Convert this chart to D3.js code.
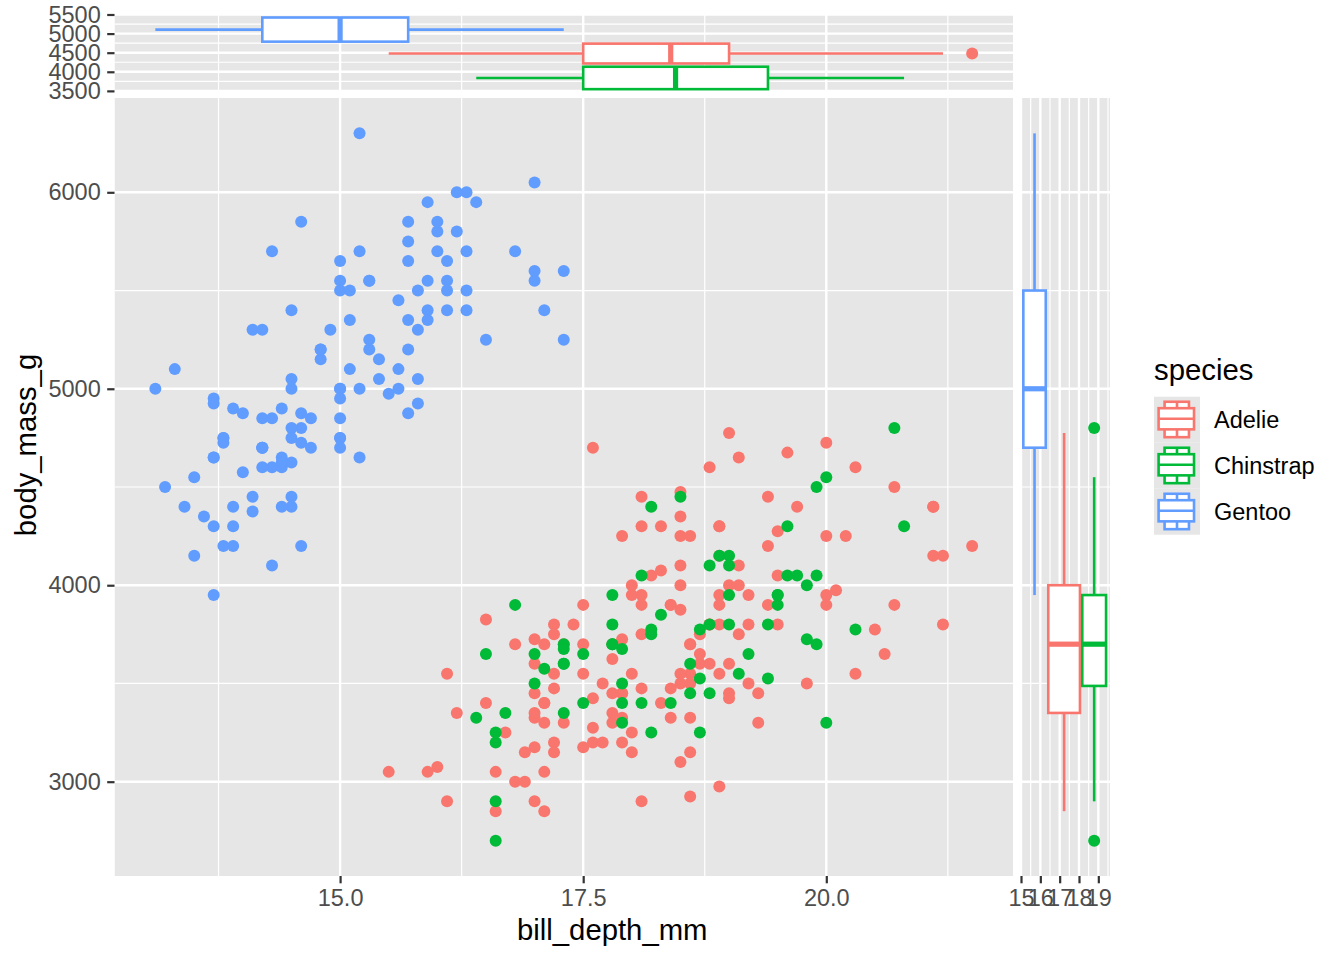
<!DOCTYPE html>
<html>
<head>
<meta charset="utf-8">
<script src="https://cdn.jsdelivr.net/npm/d3@7"></script>
<style>
  body { margin: 0; background: #fff; }
  svg { display: block; }
  text { font-family: "Liberation Sans", Arial, Helvetica, sans-serif; }
</style>
</head>
<body>
<div id="chart"></div>
<script>
// penguins: bill depth (mm) and body mass (g), per species, in data row order
const species = ["Adelie", "Chinstrap", "Gentoo"];

const adelieDepth = [18.7,17.4,18.0,19.3,20.6,17.8,19.6,18.1,20.2,17.1,17.3,17.6,21.2,21.1,17.8,19.0,20.7,18.4,21.5,
  18.3,18.7,19.2,18.1,17.2,18.9,18.6,17.9,18.6,18.9,
  16.7,18.1,17.8,18.9,17.0,21.1,20.0,18.5,19.3,19.1,18.0,18.4,18.5,19.7,16.9,18.8,19.0,18.9,17.9,21.2,
  17.7,18.9,17.9,19.5,18.1,18.6,17.5,18.8,16.6,19.1,16.9,21.1,17.0,18.2,17.1,18.0,16.2,19.1,
  16.6,19.4,19.0,18.4,17.2,18.9,17.5,18.5,16.8,19.4,16.1,19.1,17.2,17.6,18.8,19.4,
  17.8,20.3,19.5,18.6,19.2,18.8,18.0,18.1,17.1,18.1,17.3,18.9,18.6,18.5,16.1,18.5,
  17.9,20.0,16.0,20.0,18.6,18.9,17.2,20.0,17.0,19.0,16.5,20.3,17.7,19.5,20.7,18.3,
  17.0,20.5,17.0,18.6,17.2,19.8,17.0,18.5,15.9,19.0,17.6,18.3,17.1,18.0,17.9,19.2,
  18.5,18.5,17.6,17.5,17.5,20.1,16.5,17.9,17.1,17.2,15.5,17.0,16.8,18.7,18.6,18.4,17.8,18.1,17.1,18.5];
const adelieMass = [3750,3800,3250,3450,3650,3625,4675,3475,4250,3300,3700,3200,3800,4400,3700,3450,4500,3325,4200,
  3400,3600,3800,3950,3800,3800,3550,3200,3150,3950,
  3250,3900,3300,3900,3325,4150,3950,3550,3300,4650,3150,3900,3100,4400,3000,4600,3425,2975,3450,4150,
  3500,4300,3450,4050,2900,3700,3550,3800,2850,3750,3150,4400,3600,4050,2850,3950,3350,4100,
  3050,4450,3600,3900,3550,4150,3700,4250,3700,3900,3550,4000,3200,4700,3800,4200,
  3350,3550,3800,3500,3950,3600,3550,4300,3400,4450,3300,4300,3700,4350,2900,4100,
  3725,4725,3075,4250,2925,3550,3750,3900,3175,4775,3825,4600,3200,4275,3900,4075,
  2900,3775,3350,3325,3150,3500,3450,3875,3050,4000,3275,4300,3050,4000,3325,3500,
  3500,4475,3425,3900,3175,3975,3400,4250,3400,3475,3050,3725,3000,3650,4250,3475,3450,3750,3700,4000];

const gentooDepth = [13.2,16.3,14.1,15.2,14.5,13.5,14.6,15.3,13.4,15.4,13.7,16.1,13.7,14.6,14.6,15.7,13.5,15.2,14.5,15.1,
  14.3,14.5,14.5,15.8,13.1,15.1,14.3,15.0,14.3,15.3,15.3,14.2,14.5,17.0,14.8,16.3,13.7,17.3,13.6,15.7,
  13.7,16.0,13.7,15.0,15.9,13.9,13.9,15.9,13.3,15.8,14.2,14.1,14.4,15.0,14.4,15.4,13.9,15.0,14.5,15.3,
  13.8,14.9,13.9,15.7,14.2,16.8,14.4,16.2,14.2,15.0,15.0,15.6,15.6,14.8,15.0,16.0,14.2,16.3,13.8,16.4,
  14.5,15.6,14.6,15.9,13.8,17.3,14.4,14.2,14.0,17.0,15.0,17.1,14.5,16.1,14.7,15.7,15.8,14.6,14.4,16.5,
  15.0,17.0,15.5,15.0,13.8,16.1,14.7,15.8,14.0,15.1,15.2,15.9,15.2,16.3,14.1,16.0,15.7,16.2,13.7,14.3,
  15.7,14.8,16.1];
const gentooMass = [4500,5700,4450,5700,5400,4550,4800,5200,4400,5150,4650,5550,4650,5850,4200,5850,4150,6300,4800,5350,
  5700,5000,4400,5050,5000,5100,4100,5650,4600,5550,5250,4700,5050,6050,5150,5400,4950,5250,4350,5350,
  3950,5700,4300,4750,5550,4900,4200,5400,5100,5300,4850,5300,4400,5000,4900,5050,4300,5000,4450,5550,
  4200,5300,4400,5650,4700,5700,4650,5800,4700,5550,4750,5000,5100,5200,4700,5800,4600,6000,4750,5950,
  4625,5450,4725,5350,4750,5600,4600,5300,4875,5550,4950,5400,4750,5650,4850,5200,4925,4875,4625,5250,
  4850,5600,4975,5500,4725,5500,4700,5500,4575,5500,5000,5950,4650,5500,4375,5850,4875,6000,4925,4850,
  5750,5200,5400];

const chinstrapDepth = [17.9,19.5,19.2,18.7,19.8,17.8,18.2,18.2,18.9,19.9,17.8,20.3,17.3,18.1,17.1,19.6,20.0,17.8,
  18.6,18.2,17.3,17.5,16.6,19.4,17.9,19.0,18.4,19.0,17.8,20.0,16.6,20.8,16.7,18.8,18.6,16.8,18.3,20.7,16.6,19.9,
  19.5,17.5,19.1,17.0,17.9,18.5,17.9,19.6,18.7,17.3,16.4,19.0,17.3,19.7,17.3,18.8,16.6,19.9,18.8,19.4,19.5,16.5,
  17.0,19.8,18.1,18.2,19.0,18.7];
const chinstrapMass = [3500,3900,3650,3525,3725,3950,3250,3750,4150,3700,3800,3775,3700,4050,3575,4050,3300,3700,
  3450,4400,3600,3400,2900,3800,3300,4150,3400,3800,3700,4550,3200,4300,3350,4100,3600,3900,3850,4800,2700,4500,
  3950,3650,3550,3500,3675,4450,3400,4300,3250,3675,3325,3950,3600,4050,3350,3450,3250,4050,3800,3525,3950,3650,
  3650,4000,3400,3775,4100,3775];

// where ggside put each marginal box (in the margin's data units)
const topBoxBand = [[4218, 4737], [3545, 4132], [4789, 5421]];     // body_mass_g
const sideBoxBand = [[16.41, 18.05], [18.17, 19.40], [15.12, 16.28]]; // bill_depth_mm

const xTicks = [15, 17.5, 20];
const yTicks = [3000, 4000, 5000, 6000];
const topTicks = [3500, 4000, 4500, 5000, 5500];
const sideTicks = [15, 16, 17, 18, 19];

const COLORS = ["#F8766D", "#00BA38", "#619CFF"];
const W = 1344, H = 960;
const MAIN = { LEFT: 114.5, RIGHT: 1013, TOP: 98, BOTTOM: 876 };
const TOP = { TOP: 14, BOTTOM: 91 };
const SIDE = { LEFT: 1020, RIGHT: 1110 };
const PANEL_BG = "#E6E6E6";
const TICK_FONT = 23.5, TITLE_FONT = 29.3;

const depthBy = [adelieDepth, chinstrapDepth, gentooDepth];
const massBy = [adelieMass, chinstrapMass, gentooMass];

// points in the original row order: Adelie, Gentoo, Chinstrap
const points = [];
[0, 2, 1].forEach(s => depthBy[s].forEach((d, i) => points.push({ s, depth: d, mass: massBy[s][i] })));

function boxStats(values) {
  const v = values.slice().sort(d3.ascending);
  const q1 = d3.quantileSorted(v, 0.25), med = d3.quantileSorted(v, 0.5), q3 = d3.quantileSorted(v, 0.75);
  const iqr = q3 - q1;
  const lo = d3.min(v.filter(d => d >= q1 - 1.5 * iqr));
  const hi = d3.max(v.filter(d => d <= q3 + 1.5 * iqr));
  return { q1, med, q3, lo, hi, out: v.filter(d => d < lo || d > hi) };
}

const x = d3.scaleLinear().domain([12.68, 21.92]).range([MAIN.LEFT, MAIN.RIGHT]);
const y = d3.scaleLinear().domain([2520, 6480]).range([MAIN.BOTTOM, MAIN.TOP]);
const yTop = d3.scaleLinear().domain([3497, 5513]).range([TOP.BOTTOM, TOP.TOP]);
const xSide = d3.scaleLinear().domain([14.948, 19.604]).range([SIDE.LEFT, SIDE.RIGHT]);

const svg = d3.select("#chart").append("svg")
  .attr("width", W).attr("height", H)
  .style("background", "white");

function panel(id, x0, x1, y0, y1) {
  svg.append("clipPath").attr("id", id)
    .append("rect").attr("x", x0).attr("y", y0).attr("width", x1 - x0).attr("height", y1 - y0);
  const g = svg.append("g").attr("clip-path", `url(#${id})`);
  g.append("rect").attr("x", x0).attr("y", y0).attr("width", x1 - x0).attr("height", y1 - y0)
    .attr("fill", PANEL_BG);
  return g;
}

function grid(g, vals, scale, vertical, other, width) {
  g.selectAll(null).data(vals).join("line")
    .attr("x1", d => vertical ? scale(d) : other[0])
    .attr("x2", d => vertical ? scale(d) : other[1])
    .attr("y1", d => vertical ? other[0] : scale(d))
    .attr("y2", d => vertical ? other[1] : scale(d))
    .attr("stroke", "white").attr("stroke-width", width);
}

const xMinor = [13.75, 16.25, 18.75, 21.25];
const yMinor = [3500, 4500, 5500];

// ---- main panel
const gMain = panel("clip-main", MAIN.LEFT, MAIN.RIGHT, MAIN.TOP, MAIN.BOTTOM);
grid(gMain, xMinor, x, true, [MAIN.TOP, MAIN.BOTTOM], 1.2);
grid(gMain, yMinor, y, false, [MAIN.LEFT, MAIN.RIGHT], 1.2);
grid(gMain, xTicks, x, true, [MAIN.TOP, MAIN.BOTTOM], 2.4);
grid(gMain, yTicks, y, false, [MAIN.LEFT, MAIN.RIGHT], 2.4);

gMain.selectAll(".pt").data(points).join("circle")
  .attr("class", "pt")
  .attr("cx", d => x(d.depth))
  .attr("cy", d => y(d.mass))
  .attr("r", 6)
  .attr("fill", d => COLORS[d.s]);

// ---- top margin: horizontal boxplots of bill depth
const gTop = panel("clip-top", MAIN.LEFT, MAIN.RIGHT, TOP.TOP, TOP.BOTTOM);
grid(gTop, xMinor, x, true, [TOP.TOP, TOP.BOTTOM], 1.2);
grid(gTop, [3750, 4250, 4750, 5250], yTop, false, [MAIN.LEFT, MAIN.RIGHT], 1.2);
grid(gTop, xTicks, x, true, [TOP.TOP, TOP.BOTTOM], 2.4);
grid(gTop, topTicks, yTop, false, [MAIN.LEFT, MAIN.RIGHT], 2.4);

species.forEach((sp, s) => {
  const b = boxStats(depthBy[s]);
  const y0 = yTop(topBoxBand[s][1]), y1 = yTop(topBoxBand[s][0]), ym = (y0 + y1) / 2;
  const g = gTop.append("g").attr("stroke", COLORS[s]);
  g.selectAll("circle").data(b.out).join("circle")
    .attr("cx", d => x(d)).attr("cy", ym).attr("r", 6)
    .attr("fill", COLORS[s]).attr("stroke", "none");
  g.append("line").attr("x1", x(b.lo)).attr("x2", x(b.q1)).attr("y1", ym).attr("y2", ym).attr("stroke-width", 2.6);
  g.append("line").attr("x1", x(b.q3)).attr("x2", x(b.hi)).attr("y1", ym).attr("y2", ym).attr("stroke-width", 2.6);
  g.append("rect").attr("x", x(b.q1)).attr("width", x(b.q3) - x(b.q1))
    .attr("y", y0).attr("height", y1 - y0)
    .attr("fill", "white").attr("stroke-width", 2.6);
  g.append("line").attr("x1", x(b.med)).attr("x2", x(b.med)).attr("y1", y0).attr("y2", y1).attr("stroke-width", 5.2);
});

// ---- right margin: vertical boxplots of body mass
const gSide = panel("clip-side", SIDE.LEFT, SIDE.RIGHT, MAIN.TOP, MAIN.BOTTOM);
grid(gSide, [15.5, 16.5, 17.5, 18.5, 19.5], xSide, true, [MAIN.TOP, MAIN.BOTTOM], 1.2);
grid(gSide, yMinor, y, false, [SIDE.LEFT, SIDE.RIGHT], 1.2);
grid(gSide, sideTicks, xSide, true, [MAIN.TOP, MAIN.BOTTOM], 2.4);
grid(gSide, yTicks, y, false, [SIDE.LEFT, SIDE.RIGHT], 2.4);

species.forEach((sp, s) => {
  const b = boxStats(massBy[s]);
  const x0 = xSide(sideBoxBand[s][0]), x1 = xSide(sideBoxBand[s][1]), xm = (x0 + x1) / 2;
  const g = gSide.append("g").attr("stroke", COLORS[s]);
  g.selectAll("circle").data(b.out).join("circle")
    .attr("cx", xm).attr("cy", d => y(d)).attr("r", 6)
    .attr("fill", COLORS[s]).attr("stroke", "none");
  g.append("line").attr("x1", xm).attr("x2", xm).attr("y1", y(b.hi)).attr("y2", y(b.q3)).attr("stroke-width", 2.6);
  g.append("line").attr("x1", xm).attr("x2", xm).attr("y1", y(b.q1)).attr("y2", y(b.lo)).attr("stroke-width", 2.6);
  g.append("rect").attr("x", x0).attr("width", x1 - x0)
    .attr("y", y(b.q3)).attr("height", y(b.q1) - y(b.q3))
    .attr("fill", "white").attr("stroke-width", 2.6);
  g.append("line").attr("x1", x0).attr("x2", x1).attr("y1", y(b.med)).attr("y2", y(b.med)).attr("stroke-width", 5.2);
});

// ---- axes
function styleAxis(g) {
  g.select(".domain").remove();
  g.selectAll(".tick line").attr("stroke", "#333333").attr("stroke-width", 2.2);
  g.selectAll(".tick text").attr("fill", "#4D4D4D").style("font-size", TICK_FONT + "px");
}

svg.append("g").attr("transform", `translate(${MAIN.LEFT},0)`)
  .call(d3.axisLeft(y).tickValues(yTicks).tickFormat(d3.format("d")).tickSize(7.3).tickPadding(6.5))
  .call(styleAxis);
svg.append("g").attr("transform", `translate(${MAIN.LEFT},0)`)
  .call(d3.axisLeft(yTop).tickValues(topTicks).tickFormat(d3.format("d")).tickSize(7.3).tickPadding(6.5))
  .call(styleAxis);
svg.append("g").attr("transform", `translate(0,${MAIN.BOTTOM})`)
  .call(d3.axisBottom(x).tickValues(xTicks).tickFormat(d3.format(".1f")).tickSize(7.3).tickPadding(6))
  .call(styleAxis);
svg.append("g").attr("transform", `translate(0,${MAIN.BOTTOM})`)
  .call(d3.axisBottom(xSide).tickValues(sideTicks).tickFormat(d3.format("d")).tickSize(7.3).tickPadding(6))
  .call(styleAxis);

svg.append("text")
  .attr("x", (MAIN.LEFT + SIDE.RIGHT) / 2).attr("y", 940)
  .attr("text-anchor", "middle").style("font-size", TITLE_FONT + "px")
  .text("bill_depth_mm");
svg.append("text")
  .attr("transform", `translate(36,${(TOP.TOP + MAIN.BOTTOM) / 2}) rotate(-90)`)
  .attr("text-anchor", "middle").style("font-size", TITLE_FONT + "px")
  .text("body_mass_g");

// ---- legend
const KEY = 46, LX = 1154, LY = 396.7;
const legend = svg.append("g");
legend.append("text").attr("x", LX).attr("y", 380).style("font-size", TITLE_FONT + "px").text("species");

const keys = legend.selectAll(".key").data(species).join("g")
  .attr("class", "key")
  .attr("transform", (d, i) => `translate(${LX},${LY + i * KEY})`);
keys.append("rect").attr("width", KEY).attr("height", KEY).attr("fill", PANEL_BG);
keys.each(function (d, i) {
  const k = d3.select(this).append("g").attr("stroke", COLORS[i]).attr("stroke-width", 2.6).attr("fill", "white");
  // glyph of the vertical-side boxplot layer
  k.append("rect").attr("x", KEY * 0.23).attr("y", KEY * 0.11).attr("width", KEY * 0.53).attr("height", KEY * 0.77);
  k.append("line").attr("x1", KEY * 0.5).attr("x2", KEY * 0.5).attr("y1", KEY * 0.11).attr("y2", KEY * 0.88);
  // glyph of the horizontal-side boxplot layer
  k.append("rect").attr("x", KEY * 0.1).attr("y", KEY * 0.25).attr("width", KEY * 0.77).attr("height", KEY * 0.46);
  k.append("line").attr("x1", KEY * 0.1).attr("x2", KEY * 0.87).attr("y1", KEY * 0.48).attr("y2", KEY * 0.48);
});
keys.append("text")
  .attr("x", 1214 - LX).attr("y", KEY / 2).attr("dy", "0.35em")
  .style("font-size", TICK_FONT + "px")
  .text(d => d);
</script>
</body>
</html>
